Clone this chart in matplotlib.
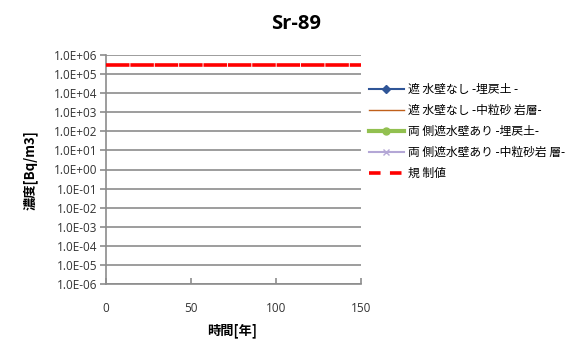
import matplotlib
matplotlib.use("Agg")
import matplotlib.pyplot as plt
from matplotlib.lines import Line2D
from matplotlib.ticker import FixedLocator, NullLocator

plt.rcParams['font.family'] = ['Noto Sans CJK JP', 'DejaVu Sans']

title = "Sr-89"
series_names = [
    "遮 水壁なし -埋戻土 -",
    "遮 水壁なし -中粒砂 岩層-",
    "両 側遮水壁あり -埋戻土-",
    "両 側遮水壁あり -中粒砂岩 層-",
]
# concentrations stay below the plotted range, so only the legend shows them
series_years = [[], [], [], []]
series_values = [[], [], [], []]

limit_name = "規 制値"
limit_years = [0, 150]
limit_values = [3.0e5, 3.0e5]

y_ticks = [10.0 ** e for e in range(-6, 7)]
y_tick_labels = ["1.0E-06", "1.0E-05", "1.0E-04", "1.0E-03", "1.0E-02", "1.0E-01",
                 "1.0E+00", "1.0E+01", "1.0E+02", "1.0E+03", "1.0E+04", "1.0E+05", "1.0E+06"]
x_ticks = [0, 50, 100, 150]
x_label = "時間[年]"
y_label = "濃度[Bq/m3]"

fig = plt.figure(figsize=(5.81, 3.49), dpi=100)
W, H = 581, 349
ax = fig.add_axes([106 / W, 1 - 284 / H, (361 - 106) / W, (284 - 55) / H])

styles = [
    dict(color="#2f5597", marker="D", markersize=4, linewidth=1.5),
    dict(color="#c0601a", linewidth=1.0),
    dict(color="#92c050", marker="o", markersize=5, linewidth=3),
    dict(color="#b4a7d6", marker="x", markersize=5, linewidth=1.5),
]
handles = []
for name, xs, ys, st in zip(series_names, series_years, series_values, styles):
    line, = ax.plot(xs, ys, label=name, **st)
    handles.append(line)

ax.plot(limit_years, limit_values, color="#ff0000", linewidth=2.6,
        linestyle=(0, (6.5, 0.25)), zorder=5, clip_on=False)
handles.append(Line2D([], [], color="#ff0000", linewidth=2.6,
                      linestyle=(0, (3.2, 2.6))))

ax.set_yscale("log")
ax.set_ylim(1e-6, 1e6)
ax.set_xlim(0, 150)
ax.yaxis.set_major_locator(FixedLocator(y_ticks))
ax.yaxis.set_minor_locator(NullLocator())
ax.set_yticklabels(y_tick_labels)
ax.set_xticks(x_ticks)
ax.set_xticklabels([str(v) for v in x_ticks])

ax.grid(axis="y", color="#8c8c8c", linewidth=1.2)
for s in ("top", "right"):
    ax.spines[s].set_visible(False)
for s in ("left", "bottom"):
    ax.spines[s].set_color("#8c8c8c")
    ax.spines[s].set_linewidth(1.2)
ax.tick_params(axis="y", direction="out", length=4, color="#8c8c8c", width=1.2,
               labelsize=8.5, pad=2)
ax.tick_params(axis="x", direction="in", length=4, color="#8c8c8c", width=1.2,
               labelsize=8.5, pad=13)
for lbl in ax.get_xticklabels() + ax.get_yticklabels():
    lbl.set_color("#333333")
    lbl.set_family(["Open Sans", "DejaVu Sans"])

fig.text(296 / W, 1 - 24 / H, title, ha="center", va="center",
         fontsize=14.5, fontweight="bold", family=["Open Sans", "DejaVu Sans"])
fig.text(232 / W, 1 - 331 / H, x_label, ha="center", va="center",
         fontsize=9.5, fontweight="bold")
fig.text(30 / W, 1 - 170 / H, y_label, ha="center", va="center",
         fontsize=9.5, fontweight="bold", rotation=90)

leg = fig.legend(handles, series_names + [limit_name],
                 loc="upper left", bbox_to_anchor=(364 / W, 1 - 78 / H),
                 frameon=False, fontsize=8.5, handlelength=3.0,
                 handletextpad=0.3, labelspacing=0.68, borderaxespad=0)

fig.savefig("out.png", dpi=100)
